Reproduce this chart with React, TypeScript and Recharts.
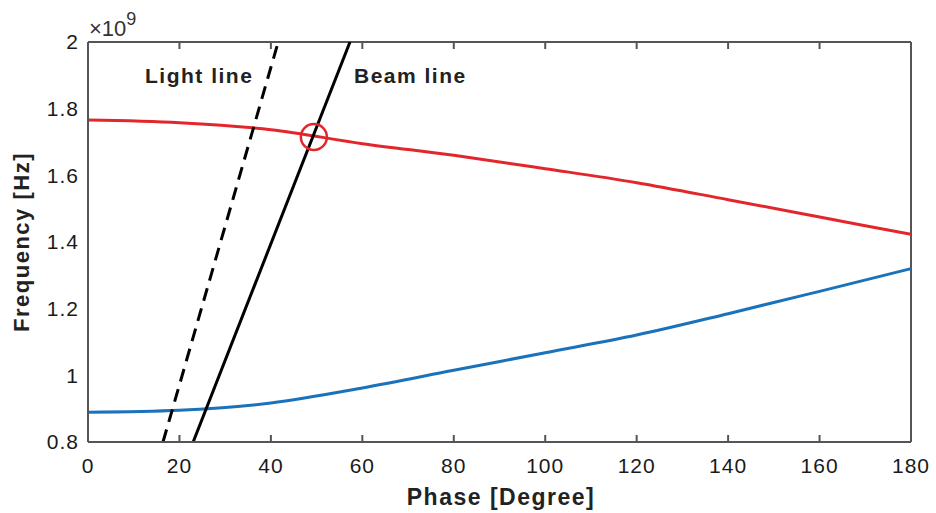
import { ComposedChart, Line, XAxis, YAxis, ReferenceDot, ReferenceLine } from "recharts";

// dispersion curves, frequency in units of 1e9 Hz
const phase = [0, 20, 40, 60, 80, 100, 120, 140, 160, 180];
const upperMode = [1.766, 1.758, 1.737, 1.695, 1.66, 1.62, 1.578, 1.527, 1.475, 1.423];
const lowerMode = [0.889, 0.895, 0.917, 0.962, 1.015, 1.068, 1.121, 1.185, 1.252, 1.32];

const lightLine = [
  { phase: 16.4, light: 0.8 },
  { phase: 41.6, light: 2.0 },
];
const beamLine = [
  { phase: 23.0, beam: 0.8 },
  { phase: 57.3, beam: 2.0 },
];
const crossing = { phase: 49.4, freq: 1.715 };

const xTicks = [0, 20, 40, 60, 80, 100, 120, 140, 160, 180];
const yTicks = [0.8, 1.0, 1.2, 1.4, 1.6, 1.8, 2.0];

const data = phase.map((p, i) => ({ phase: p, upper: upperMode[i], lower: lowerMode[i] }));

const FONT = "'Liberation Sans', Arial, sans-serif";
const AXIS = "#555";
const tickStyle = { fontSize: 21, fill: "#1a1a1a", fontFamily: FONT, letterSpacing: 1 };
const fmtY = (v: number) => String(+v.toFixed(1));
const tickMark = { stroke: AXIS, strokeWidth: 2 };
const NoLabel = () => <g />;

export default function App() {
  return (
    <div style={{ position: "absolute", left: 0, top: 0, background: "#fff" }}>
      <ComposedChart
        width={936}
        height={513}
        data={data}
        margin={{ top: 42, right: 25, bottom: 0, left: 0 }}
      >
        {/* labelled axes */}
        <XAxis
          xAxisId="x"
          dataKey="phase"
          type="number"
          domain={[0, 180]}
          ticks={xTicks}
          allowDataOverflow
          height={71}
          tickSize={0}
          tickMargin={16}
          tickLine={false}
          axisLine={{ stroke: AXIS, strokeWidth: 2 }}
          tick={tickStyle}
        />
        <YAxis
          yAxisId="y"
          type="number"
          domain={[0.8, 2]}
          ticks={yTicks}
          allowDataOverflow
          width={88}
          tickSize={0}
          tickMargin={9}
          tickLine={false}
          axisLine={{ stroke: AXIS, strokeWidth: 2 }}
          tick={tickStyle}
          tickFormatter={fmtY}
        />
        {/* inward tick marks on all four sides */}
        <XAxis xAxisId="xb" dataKey="phase" type="number" domain={[0, 180]} ticks={xTicks} orientation="bottom" mirror height={30}
          tick={NoLabel} tickSize={7} tickLine={tickMark} axisLine={false} />
        <XAxis xAxisId="xt" dataKey="phase" type="number" domain={[0, 180]} ticks={xTicks} orientation="top" mirror height={30}
          tick={NoLabel} tickSize={7} tickLine={tickMark} axisLine={false} />
        <YAxis yAxisId="yl" type="number" domain={[0.8, 2]} ticks={yTicks} orientation="left" mirror width={30}
          tick={NoLabel} tickSize={7} tickLine={tickMark} axisLine={false} />
        <YAxis yAxisId="yr" type="number" domain={[0.8, 2]} ticks={yTicks} orientation="right" mirror width={30}
          tick={NoLabel} tickSize={7} tickLine={tickMark} axisLine={false} />

        {/* top and right edges of the box */}
        <ReferenceLine xAxisId="x" yAxisId="y" y={2} stroke={AXIS} strokeWidth={2} ifOverflow="visible" />
        <ReferenceLine xAxisId="x" yAxisId="y" x={180} stroke={AXIS} strokeWidth={2} ifOverflow="visible" />

        <Line xAxisId="x" yAxisId="y" type="monotone" dataKey="upper" stroke="#e3262b" strokeWidth={3} dot={false} isAnimationActive={false} />
        <Line xAxisId="x" yAxisId="y" type="monotone" dataKey="lower" stroke="#1a72bb" strokeWidth={3} dot={false} isAnimationActive={false} />
        <Line xAxisId="x" yAxisId="y" data={lightLine} dataKey="light" type="linear" stroke="#000" strokeWidth={3}
          strokeDasharray="13 8" dot={false} isAnimationActive={false} />
        <Line xAxisId="x" yAxisId="y" data={beamLine} dataKey="beam" type="linear" stroke="#000" strokeWidth={3}
          dot={false} isAnimationActive={false} />
        <ReferenceDot xAxisId="x" yAxisId="y" x={crossing.phase} y={crossing.freq} r={13}
          fill="none" stroke="#e3262b" strokeWidth={2.5} />

        <text x={89} y={36} fontSize={22} fill="#333" fontFamily={FONT}>
          ×10<tspan dy={-11} fontSize={18}>9</tspan>
        </text>
        <text x={145} y={83} fontSize={21} fontWeight="bold" fill="#222" fontFamily={FONT} letterSpacing={1.5}>
          Light line
        </text>
        <text x={354} y={83} fontSize={21} fontWeight="bold" fill="#222" fontFamily={FONT} letterSpacing={1.5}>
          Beam line
        </text>
        <text x={501} y={505} textAnchor="middle" fontSize={23} fontWeight="bold" fill="#222" fontFamily={FONT} letterSpacing={1.5}>
          Phase [Degree]
        </text>
        <text x={29} y={242} transform="rotate(-90 29 242)" textAnchor="middle" fontSize={22} fontWeight="bold"
          fill="#222" fontFamily={FONT} letterSpacing={1.5}>
          Frequency [Hz]
        </text>
      </ComposedChart>
    </div>
  );
}
